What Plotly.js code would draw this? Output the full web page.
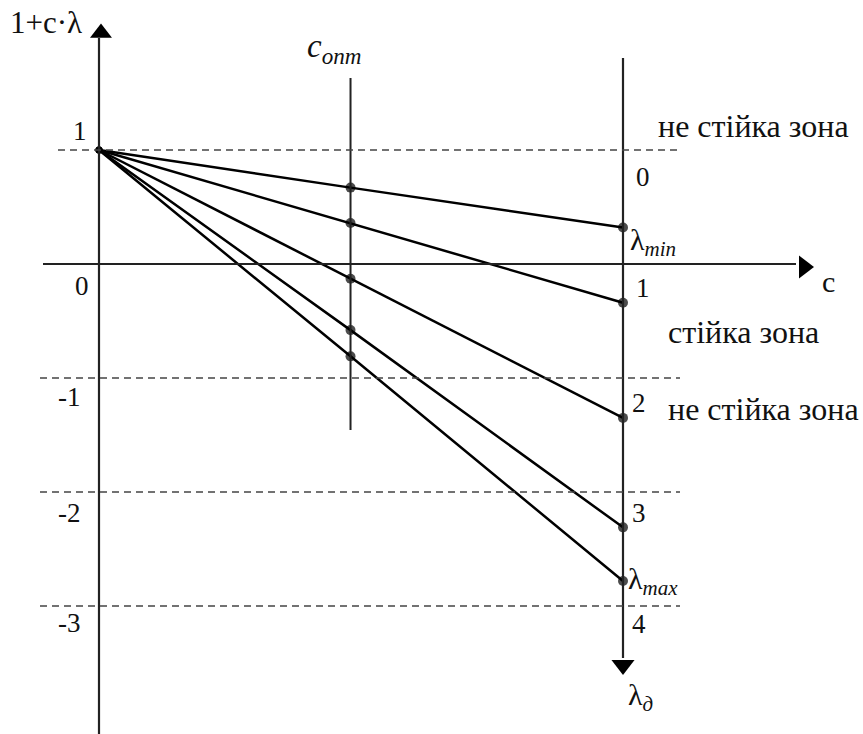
<!DOCTYPE html>
<html>
<head>
<meta charset="utf-8">
<script src="https://cdn.plot.ly/plotly-3.0.1.min.js"></script>
<style>html,body{margin:0;padding:0;background:#fff;}#chart{width:863px;height:734px;}</style>
</head>
<body>
<div id="chart"></div>
<script>
// ---- data ----
var cOpt = 0.48;                                      // position of c_опт
var startValues = [1, 1, 1, 1, 1];                    // 1+c·λ at c = 0
var optValues   = [0.67, 0.36, -0.13, -0.58, -0.81];  // at c = c_опт
var endValues   = [0.32, -0.34, -1.35, -2.31, -2.78]; // at c = 1
var zoneLevels  = [1, -1, -2, -3];                    // dashed lines
var leftTickVals   = [1, 0, -1, -2, -3];
var leftTickLabels = ['1', '0', '-1', '-2', '-3'];
var rightTickVals   = [1, 0, -1, -2, -3];             // λ = 0..4 on the c = 1 line
var rightTickLabels = ['0', '1', '2', '3', '4'];

// ---- pixel helpers for decoration placement ----
var X0 = 99, XS = 524, Y0 = 264, YS = 114;
function X(px){ return (px - X0) / XS; }
function Y(py){ return (Y0 - py) / YS; }

var FONT = 'Liberation Serif';
var traces = [];
for (var i = 0; i < endValues.length; i++) {
  traces.push({
    x: [0, cOpt, 1], y: [startValues[i], optValues[i], endValues[i]],
    mode: 'lines+markers', type: 'scatter',
    line: {color: '#000', width: 2.5},
    marker: {color: '#000', size: [7, 10, 10], line: {width: 0}},
    hoverinfo: 'skip', showlegend: false
  });
}
// arrow heads
traces.push({x: [X(101)], y: [Y(33)], mode: 'markers', marker: {symbol: 'triangle-up', size: 19, color: '#000', line: {width: 0}}, showlegend: false, hoverinfo: 'skip'});
traces.push({x: [X(804)], y: [Y(267)], mode: 'markers', marker: {symbol: 'triangle-right', size: 20, color: '#000', line: {width: 0}}, showlegend: false, hoverinfo: 'skip'});
traces.push({x: [X(623)], y: [Y(665)], mode: 'markers', marker: {symbol: 'triangle-down', size: 20, color: '#000', line: {width: 0}}, showlegend: false, hoverinfo: 'skip'});

var shapes = [];
shapes.push({type: 'line', x0: 0, x1: 0, y0: Y(734), y1: Y(38), line: {color: '#222', width: 2.2}});
shapes.push({type: 'line', x0: X(43), x1: X(796), y0: 0, y1: 0, line: {color: '#222', width: 2.2}});
shapes.push({type: 'line', x0: 1, x1: 1, y0: Y(658), y1: Y(58), line: {color: '#222', width: 2.2}});
shapes.push({type: 'line', x0: cOpt, x1: cOpt, y0: Y(430), y1: Y(78), line: {color: '#222', width: 2}});
zoneLevels.forEach(function (v, k) {
  shapes.push({type: 'line', x0: X(k === 0 ? 58 : 40), x1: X(680), y0: v, y1: v,
    line: {color: '#444', width: 1.6, dash: '7px,5px'}});
});

var ann = [];
function txt(px, py, text, size) {
  ann.push({x: X(px), y: Y(py), text: text, showarrow: false, xanchor: 'left', yanchor: 'middle',
    font: {family: FONT, size: size, color: '#111'}});
}
txt(8, 22, '1+c·λ', 31);
txt(305, 48, '<i>c</i><sub><i>опт</i></sub>', 33);
txt(656, 126, 'не стійка зона', 32);
txt(666, 332, 'стійка зона', 32);
txt(666, 409, 'не стійка зона', 32);
txt(628, 242, 'λ<sub><i>min</i></sub>', 30);
txt(626, 581, 'λ<sub><i>max</i></sub>', 30);
txt(626, 697, 'λ<sub><i>д</i></sub>', 30);
txt(820, 281, 'c', 30);
var leftPos = [[89, 131], [91, 286], [83, 397], [83, 513], [83, 623]];
leftTickVals.forEach(function (v, k) {
  ann.push({x: X(leftPos[k][0]), y: Y(leftPos[k][1]), text: leftTickLabels[k], showarrow: false,
    xanchor: 'right', yanchor: 'middle', font: {family: FONT, size: 27, color: '#111'}});
});
var rightPos = [[634, 177], [634, 288], [630, 403], [630, 513], [630, 624]];
rightTickVals.forEach(function (v, k) {
  ann.push({x: X(rightPos[k][0]), y: Y(rightPos[k][1]), text: rightTickLabels[k], showarrow: false,
    xanchor: 'left', yanchor: 'middle', font: {family: FONT, size: 27, color: '#111'}});
});

var layout = {
  width: 863, height: 734, autosize: false,
  font: {family: FONT, size: 27, color: '#111'},
  margin: {l: 0, r: 0, t: 0, b: 0},
  paper_bgcolor: '#fff', plot_bgcolor: '#fff',
  xaxis: {range: [X(0), X(863)], visible: false, fixedrange: true},
  yaxis: {range: [Y(734), Y(0)], visible: false, fixedrange: true},
  shapes: shapes, annotations: ann, showlegend: false
};
Plotly.newPlot('chart', traces, layout, {displayModeBar: false, staticPlot: true});
</script>
</body>
</html>
